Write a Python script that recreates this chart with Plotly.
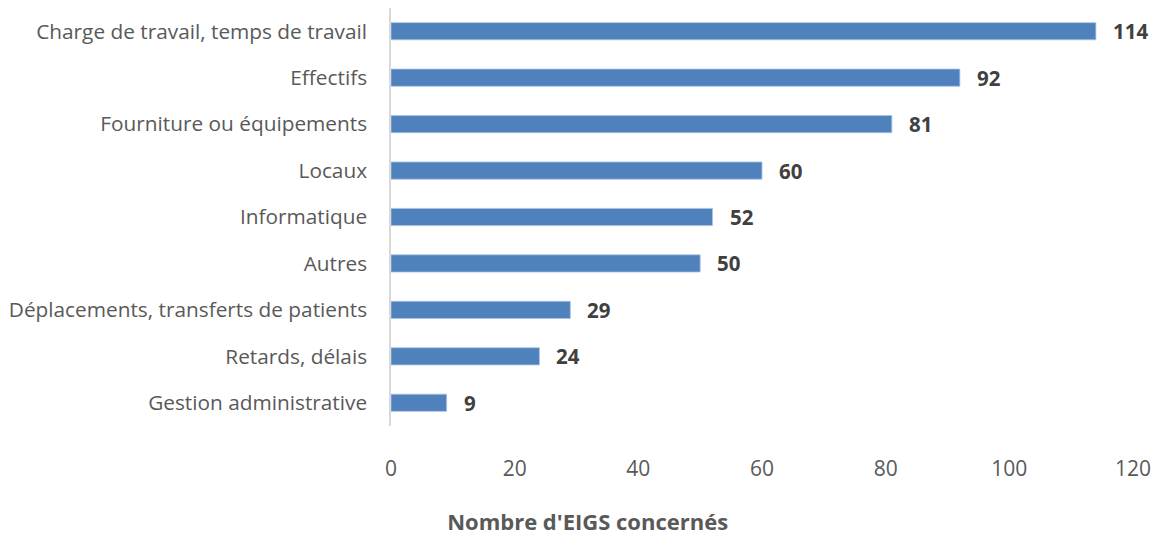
import plotly.graph_objects as go

categories = ["Charge de travail, temps de travail", "Effectifs", "Fourniture ou équipements",
              "Locaux", "Informatique", "Autres", "Déplacements, transferts de patients",
              "Retards, délais", "Gestion administrative"]
values = [114, 92, 81, 60, 52, 50, 29, 24, 9]
x_ticks = [0, 20, 40, 60, 80, 100, 120]
x_title = "Nombre d'EIGS concernés"

FONT = "Open Sans"

fig = go.Figure(go.Bar(
    x=values, y=categories, orientation="h",
    marker=dict(color="#4F81BD", line=dict(color="#A9C3E3", width=0.8)),
    width=0.37, hoverinfo="skip",
))

for c, v in zip(categories, values):
    fig.add_annotation(x=v, y=c, text=f"<b>{v}</b>", showarrow=False,
                       xanchor="left", xshift=15, yanchor="middle",
                       font=dict(family=FONT, size=20.5, color="#404040"))

fig.update_layout(
    width=1159, height=536,
    margin=dict(l=391, r=21, t=8, b=110),
    plot_bgcolor="white", paper_bgcolor="white",
    showlegend=False,
    font=dict(family=FONT, color="#595959", size=20.8),
    title=dict(text=f"<b>{x_title}</b>", xref="container", x=0.507, xanchor="center",
               yref="container", y=(536 - 522) / 536, yanchor="middle",
               font=dict(family=FONT, size=22, color="#595959")),
    xaxis=dict(range=[0, 120], tickvals=x_ticks, showgrid=False, zeroline=False,
               showline=False, ticks="", ticklabelstandoff=28,
               tickfont=dict(family=FONT, size=21, color="#595959")),
    yaxis=dict(autorange="reversed", showgrid=False, zeroline=False,
               showline=True, linecolor="#D9D9D9", linewidth=1.5,
               ticks="", ticklabelstandoff=18,
               tickfont=dict(family=FONT, size=20.8, color="#595959")),
)

fig.write_html("out.html")
